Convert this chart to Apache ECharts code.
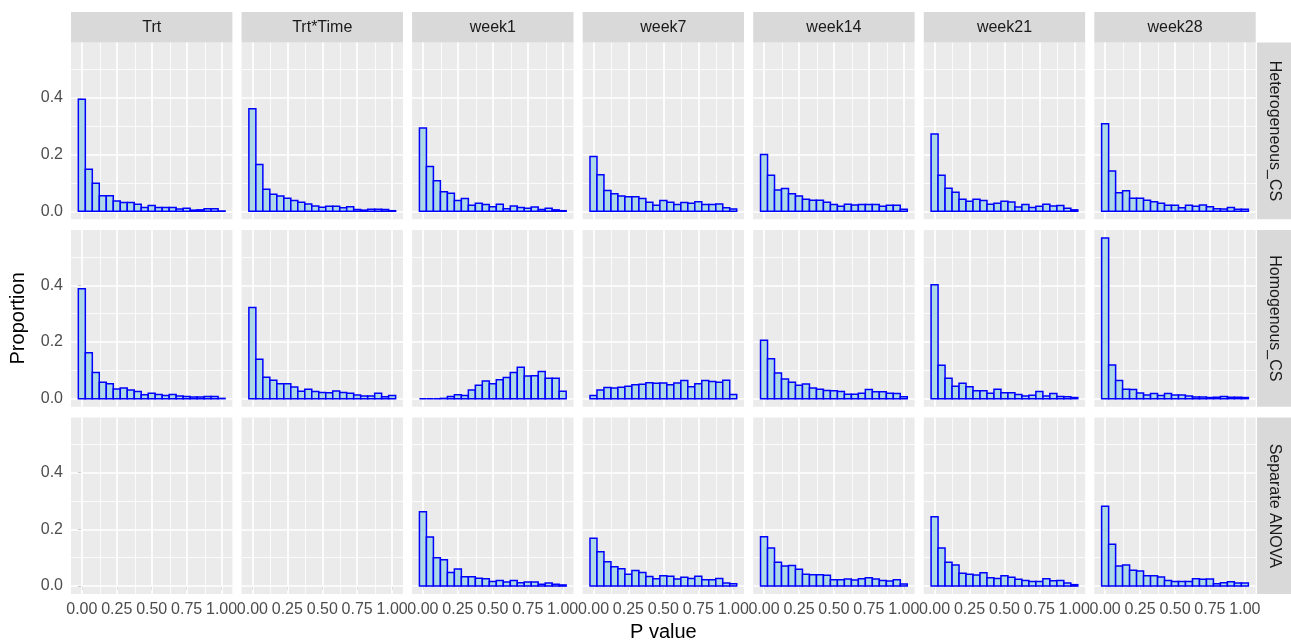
<!DOCTYPE html>
<html><head><meta charset="utf-8">
<script src="https://cdn.jsdelivr.net/npm/echarts@6/dist/echarts.min.js"></script>
<style>html,body{margin:0;padding:0;background:#fff}#chart{width:1291px;height:640px}</style>
</head><body><div id="chart"></div>
<script>
// ---- data ----
const binCenters = [0,0.05,0.10,0.15,0.20,0.25,0.30,0.35,0.40,0.45,0.50,0.55,0.60,0.65,0.70,0.75,0.80,0.85,0.90,0.95,1.00];
const binWidth = 0.05;
const colLabels = ["Trt","Trt*Time","week1","week7","week14","week21","week28"];
const rowLabels = ["Heterogeneous_CS","Homogenous_CS","Separate ANOVA"];
const xTickValues = [0,0.25,0.5,0.75,1];
const xMinorValues = [0.125,0.375,0.625,0.875];
const yTickValues = [0,0.2,0.4];
const yMinorValues = [0.1,0.3,0.5];

const hetTrt     = [0.395,0.148,0.099,0.055,0.055,0.036,0.031,0.031,0.025,0.013,0.020,0.013,0.013,0.013,0.008,0.011,0.004,0.005,0.009,0.009,0.001];
const hetTrtTime = [0.362,0.165,0.078,0.060,0.054,0.046,0.038,0.032,0.026,0.019,0.014,0.018,0.018,0.012,0.016,0.006,0.004,0.007,0.007,0.006,0.002];
const hetW1      = [0.294,0.158,0.108,0.069,0.064,0.038,0.045,0.021,0.028,0.024,0.016,0.025,0.009,0.019,0.013,0.011,0.015,0.006,0.011,0.005,0.002];
const hetW7      = [0.193,0.129,0.073,0.062,0.054,0.051,0.051,0.045,0.032,0.021,0.038,0.032,0.024,0.031,0.028,0.034,0.024,0.024,0.026,0.012,0.008];
const hetW14     = [0.200,0.127,0.075,0.080,0.062,0.054,0.042,0.039,0.039,0.032,0.024,0.018,0.025,0.022,0.024,0.024,0.024,0.018,0.021,0.021,0.007];
const hetW21     = [0.273,0.127,0.081,0.067,0.042,0.035,0.042,0.038,0.025,0.028,0.035,0.033,0.015,0.024,0.013,0.018,0.025,0.019,0.020,0.011,0.005];
const hetW28     = [0.309,0.142,0.065,0.072,0.046,0.046,0.039,0.034,0.028,0.021,0.021,0.012,0.021,0.018,0.022,0.016,0.009,0.008,0.013,0.007,0.007];

const homTrt     = [0.388,0.162,0.092,0.058,0.053,0.034,0.038,0.031,0.025,0.014,0.019,0.015,0.011,0.015,0.009,0.008,0.006,0.006,0.008,0.008,0.001];
const homTrtTime = [0.322,0.139,0.076,0.065,0.053,0.053,0.041,0.026,0.033,0.025,0.022,0.021,0.027,0.022,0.019,0.013,0.009,0.009,0.019,0.007,0.011];
const homW1      = [0,0,0,0.001,0.008,0.014,0.011,0.031,0.047,0.062,0.053,0.067,0.075,0.092,0.111,0.080,0.081,0.096,0.072,0.072,0.026];
const homW7      = [0.011,0.031,0.039,0.038,0.040,0.044,0.049,0.051,0.056,0.054,0.055,0.049,0.055,0.064,0.042,0.053,0.064,0.061,0.058,0.065,0.015];
const homW14     = [0.206,0.141,0.091,0.069,0.058,0.047,0.052,0.038,0.033,0.029,0.028,0.025,0.016,0.016,0.019,0.032,0.024,0.024,0.019,0.018,0.007];
const homW21     = [0.402,0.118,0.072,0.044,0.054,0.042,0.028,0.028,0.019,0.033,0.021,0.021,0.015,0.009,0.012,0.025,0.009,0.018,0.008,0.007,0.004];
const homW28     = [0.567,0.119,0.064,0.033,0.032,0.020,0.013,0.018,0.011,0.018,0.013,0.013,0.009,0.006,0.006,0.004,0.005,0.008,0.005,0.005,0.004];

const sepW1      = [0.262,0.173,0.100,0.093,0.048,0.060,0.033,0.033,0.028,0.026,0.016,0.020,0.014,0.020,0.012,0.014,0.014,0.006,0.011,0.006,0.004];
const sepW7      = [0.169,0.121,0.086,0.068,0.061,0.042,0.055,0.048,0.034,0.026,0.036,0.035,0.025,0.031,0.027,0.035,0.022,0.022,0.027,0.011,0.008];
const sepW14     = [0.174,0.134,0.084,0.071,0.073,0.059,0.042,0.040,0.040,0.038,0.022,0.022,0.025,0.021,0.026,0.029,0.025,0.020,0.018,0.022,0.007];
const sepW21     = [0.245,0.134,0.084,0.074,0.045,0.042,0.039,0.047,0.029,0.027,0.036,0.031,0.024,0.020,0.016,0.016,0.026,0.019,0.020,0.011,0.005];
const sepW28     = [0.282,0.148,0.071,0.074,0.056,0.053,0.036,0.036,0.032,0.020,0.016,0.016,0.016,0.026,0.024,0.025,0.008,0.012,0.015,0.011,0.011];

const panelData = [
  [hetTrt, hetTrtTime, hetW1, hetW7, hetW14, hetW21, hetW28],
  [homTrt, homTrtTime, homW1, homW7, homW14, homW21, homW28],
  [null,   null,       sepW1, sepW7, sepW14, sepW21, sepW28]
];

// ---- layout / style ----
const L = {left:71, top:42.6, w:161.4, h:176.7, colStep:170.55, rowStep:187.4,
           stripTop:12, stripH:30.6, rStripLeft:1257, rStripW:34};
const X_MIN = -0.0775, X_MAX = 1.0775, Y_MIN = -0.02835, Y_MAX = 0.5953;
const FONT = "'Liberation Sans', Arial, Helvetica, sans-serif";

const chart = echarts.init(document.getElementById('chart'), null, {renderer:'canvas'});

function renderBar(params, api){
  const x = api.value(0), y = api.value(1);
  const p0 = api.coord([x - binWidth/2, y]);
  const p1 = api.coord([x + binWidth/2, 0]);
  return {type:'rect', shape:{x:p0[0], y:p0[1], width:p1[0]-p0[0], height:p1[1]-p0[1]},
          style:{fill:'#ADD8E6', stroke:'#0000FF', lineWidth:1.5}};
}

const gridLineItems = []
  .concat(xMinorValues.map(v => ({xAxis:v, lineStyle:{width:0.8}})))
  .concat(yMinorValues.map(v => ({yAxis:v, lineStyle:{width:0.8}})))
  .concat(xTickValues.map(v => ({xAxis:v, lineStyle:{width:1.7}})))
  .concat(yTickValues.map(v => ({yAxis:v, lineStyle:{width:1.7}})));

const grids = [], xAxes = [], yAxes = [], series = [], graphics = [];
for (let r = 0; r < 3; r++){
  for (let c = 0; c < 7; c++){
    const idx = grids.length;
    const left = L.left + c*L.colStep, top = L.top + r*L.rowStep;
    grids.push({left:left, top:top, width:L.w, height:L.h, show:true, backgroundColor:'#EBEBEB',
                borderWidth:0, containLabel:false, outerBoundsMode:'none'});
    xAxes.push({type:'value', gridIndex:idx, min:X_MIN, max:X_MAX,
      axisLine:{show:false}, splitLine:{show:false},
      axisTick:{show:r===2, customValues:xTickValues, length:4, lineStyle:{color:'#333333', width:1}},
      axisLabel:{show:r===2, customValues:xTickValues, formatter:v=>v.toFixed(2), fontSize:16,
                 color:'#4D4D4D', fontFamily:FONT, margin:7}});
    yAxes.push({type:'value', gridIndex:idx, min:Y_MIN, max:Y_MAX,
      axisLine:{show:false}, splitLine:{show:false},
      axisTick:{show:c===0, customValues:yTickValues, length:4, lineStyle:{color:'#333333', width:1}},
      axisLabel:{show:c===0, customValues:yTickValues, formatter:v=>v.toFixed(1), fontSize:16,
                 color:'#4D4D4D', fontFamily:FONT, margin:8}});
    series.push({type:'line', xAxisIndex:idx, yAxisIndex:idx, data:[], silent:true, z:1,
      markLine:{silent:true, symbol:['none','none'], z:1, animation:false, label:{show:false},
        emphasis:{disabled:true}, lineStyle:{color:'#FFFFFF', type:'solid'}, data:gridLineItems}});
    const arr = panelData[r][c];
    if (arr){
      series.push({type:'custom', xAxisIndex:idx, yAxisIndex:idx, z:3, silent:true,
        data: binCenters.map((b,i)=>[b, arr[i]]), encode:{x:0, y:1}, renderItem:renderBar});
    }
  }
}
// strips (top)
for (let c = 0; c < 7; c++){
  const left = L.left + c*L.colStep;
  graphics.push({type:'rect', shape:{x:left, y:L.stripTop, width:L.w, height:L.stripH}, style:{fill:'#D9D9D9'}, silent:true});
  graphics.push({type:'text', x:left + L.w/2, y:L.stripTop + L.stripH/2,
    style:{text:colLabels[c], fill:'#1A1A1A', fontSize:16, fontFamily:FONT, align:'center', verticalAlign:'middle'}, silent:true});
}
// strips (right)
for (let r = 0; r < 3; r++){
  const top = L.top + r*L.rowStep;
  graphics.push({type:'rect', shape:{x:L.rStripLeft, y:top, width:L.rStripW, height:L.h}, style:{fill:'#D9D9D9'}, silent:true});
  graphics.push({type:'text', x:L.rStripLeft + L.rStripW/2, y:top + L.h/2, rotation:-Math.PI/2,
    style:{text:rowLabels[r], fill:'#1A1A1A', fontSize:16, fontFamily:FONT, align:'center', verticalAlign:'middle'}, silent:true});
}
// axis titles
const panelsRight = L.left + 6*L.colStep + L.w;
const panelsBottom = L.top + 2*L.rowStep + L.h;
graphics.push({type:'text', x:(L.left + panelsRight)/2, y:632,
  style:{text:'P value', fill:'#000000', fontSize:20, fontFamily:FONT, align:'center', verticalAlign:'middle'}, silent:true});
graphics.push({type:'text', x:18, y:(L.top + panelsBottom)/2, rotation:Math.PI/2,
  style:{text:'Proportion', fill:'#000000', fontSize:20, fontFamily:FONT, align:'center', verticalAlign:'middle'}, silent:true});

chart.setOption({
  animation:false,
  backgroundColor:'#FFFFFF',
  grid:grids, xAxis:xAxes, yAxis:yAxes, series:series,
  graphic:{elements:graphics}
});
</script>
</body></html>
